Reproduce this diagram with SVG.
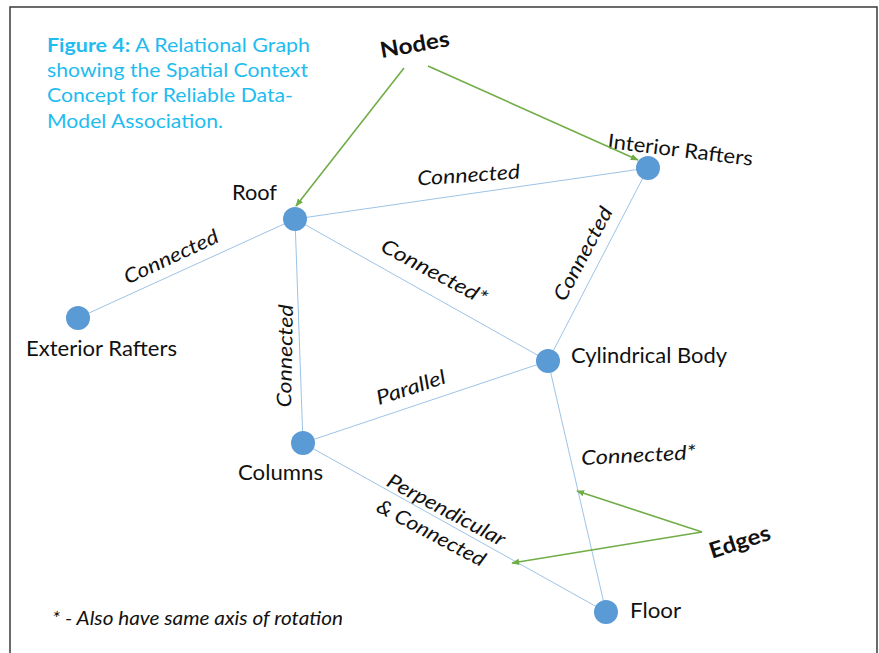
<svg xmlns="http://www.w3.org/2000/svg" width="879" height="653" viewBox="0 0 879 653">
  <defs>
    <marker id="arrow" viewBox="0 0 10 10" refX="9" refY="5" markerWidth="5" markerHeight="5" orient="auto" markerUnits="strokeWidth">
      <path d="M0,1 L10,5 L0,9 z" fill="#70ad47"/>
    </marker>
    <style>
      .frame { fill: none; stroke: #3a3a3a; stroke-width: 1.5; }
      .caption { font-family: "Lato", "Noto Sans", sans-serif; font-size: 19px; fill: #1fbcef; }
      .caption .b { font-weight: bold; }
      .edge { stroke: #9dc3e6; stroke-width: 1; fill: none; }
      .pointer { stroke: #70ad47; stroke-width: 1.6; fill: none; marker-end: url(#arrow); }
      .node circle { fill: #5b9bd5; }
      .name { font-family: "Lato", "Open Sans", sans-serif; font-size: 20.5px; fill: #111; }
      .rel { font-family: "Lato", "Open Sans", sans-serif; font-size: 20px; font-style: italic; fill: #111; text-anchor: middle; }
      .key { font-family: "Lato", "Open Sans", sans-serif; font-size: 22px; font-weight: bold; fill: #111; text-anchor: middle; }
      .note { font-family: "Lato", "Open Sans", sans-serif; font-size: 19px; font-style: italic; fill: #111; }
    </style>
  </defs>

  <rect width="879" height="653" fill="#ffffff"/>
  <path class="frame" d="M10,660 V7 H877 V660"/>

  <!-- caption -->
  <g id="caption" class="caption">
    <text x="47" y="52" textLength="263" lengthAdjust="spacingAndGlyphs"><tspan class="b">Figure 4:</tspan> A Relational Graph</text>
    <text x="47" y="77" textLength="261" lengthAdjust="spacingAndGlyphs">showing the Spatial Context</text>
    <text x="47" y="102" textLength="246" lengthAdjust="spacingAndGlyphs">Concept for Reliable Data-</text>
    <text x="47" y="128" textLength="176" lengthAdjust="spacingAndGlyphs">Model Association.</text>
  </g>

  <!-- relations between parts -->
  <g id="connectors">
    <line class="edge" x1="295" y1="219" x2="648" y2="168"/>
    <line class="edge" x1="295" y1="219" x2="78" y2="318"/>
    <line class="edge" x1="295" y1="219" x2="303" y2="443"/>
    <line class="edge" x1="295" y1="219" x2="548" y2="361"/>
    <line class="edge" x1="648" y1="168" x2="548" y2="361"/>
    <line class="edge" x1="303" y1="443" x2="548" y2="361"/>
    <line class="edge" x1="303" y1="443" x2="606" y2="612"/>
    <line class="edge" x1="548" y1="361" x2="606" y2="612"/>

    <text class="rel" transform="translate(469,182) rotate(-4)" textLength="103" lengthAdjust="spacingAndGlyphs">Connected</text>
    <text class="rel" transform="translate(174,263) rotate(-25)" textLength="102" lengthAdjust="spacingAndGlyphs">Connected</text>
    <text class="rel" transform="translate(292,356) rotate(-89)" textLength="103" lengthAdjust="spacingAndGlyphs">Connected</text>
    <text class="rel" transform="translate(431,278) rotate(28)" textLength="117" lengthAdjust="spacingAndGlyphs">Connected*</text>
    <text class="rel" transform="translate(589,257) rotate(-62)" textLength="103" lengthAdjust="spacingAndGlyphs">Connected</text>
    <text class="rel" transform="translate(413,394) rotate(-18)" textLength="72" lengthAdjust="spacingAndGlyphs">Parallel</text>
    <text class="rel" transform="translate(443,516) rotate(28)" textLength="131" lengthAdjust="spacingAndGlyphs">Perpendicular</text>
    <text class="rel" transform="translate(428,539) rotate(28)" textLength="120" lengthAdjust="spacingAndGlyphs">&amp; Connected</text>
    <text class="rel" transform="translate(639,462) rotate(-3)" textLength="115" lengthAdjust="spacingAndGlyphs">Connected*</text>
  </g>

  <!-- parts of the structure -->
  <g id="roof" class="node">
    <circle cx="295" cy="219" r="12"/>
    <text class="name" x="232" y="200" textLength="45" lengthAdjust="spacingAndGlyphs">Roof</text>
  </g>
  <g id="interior-rafters" class="node">
    <circle cx="648" cy="168" r="12"/>
    <text class="name" transform="translate(607,148) rotate(7)" textLength="146" lengthAdjust="spacingAndGlyphs">Interior Rafters</text>
  </g>
  <g id="exterior-rafters" class="node">
    <circle cx="78" cy="318" r="12"/>
    <text class="name" x="26" y="356" textLength="151" lengthAdjust="spacingAndGlyphs">Exterior Rafters</text>
  </g>
  <g id="columns" class="node">
    <circle cx="303" cy="443" r="12"/>
    <text class="name" x="238" y="480" textLength="85" lengthAdjust="spacingAndGlyphs">Columns</text>
  </g>
  <g id="cylindrical-body" class="node">
    <circle cx="548" cy="361" r="12"/>
    <text class="name" x="571" y="363" textLength="156" lengthAdjust="spacingAndGlyphs">Cylindrical Body</text>
  </g>
  <g id="floor" class="node">
    <circle cx="606" cy="612" r="12"/>
    <text class="name" x="630" y="618" textLength="51" lengthAdjust="spacingAndGlyphs">Floor</text>
  </g>

  <!-- legend callouts -->
  <g id="nodes-callout">
    <text class="key" transform="translate(416,52) rotate(-10)" textLength="70" lengthAdjust="spacingAndGlyphs">Nodes</text>
    <line class="pointer" x1="404" y1="68" x2="296" y2="206"/>
    <line class="pointer" x1="428" y1="66" x2="638" y2="160"/>
  </g>
  <g id="edges-callout">
    <text class="key" transform="translate(742,549) rotate(-18)" textLength="63" lengthAdjust="spacingAndGlyphs">Edges</text>
    <line class="pointer" x1="702" y1="532" x2="577" y2="491"/>
    <line class="pointer" x1="702" y1="532" x2="512" y2="563"/>
  </g>

  <text class="note" x="52" y="625" textLength="291" lengthAdjust="spacingAndGlyphs">* - Also have same axis of rotation</text>
</svg>
